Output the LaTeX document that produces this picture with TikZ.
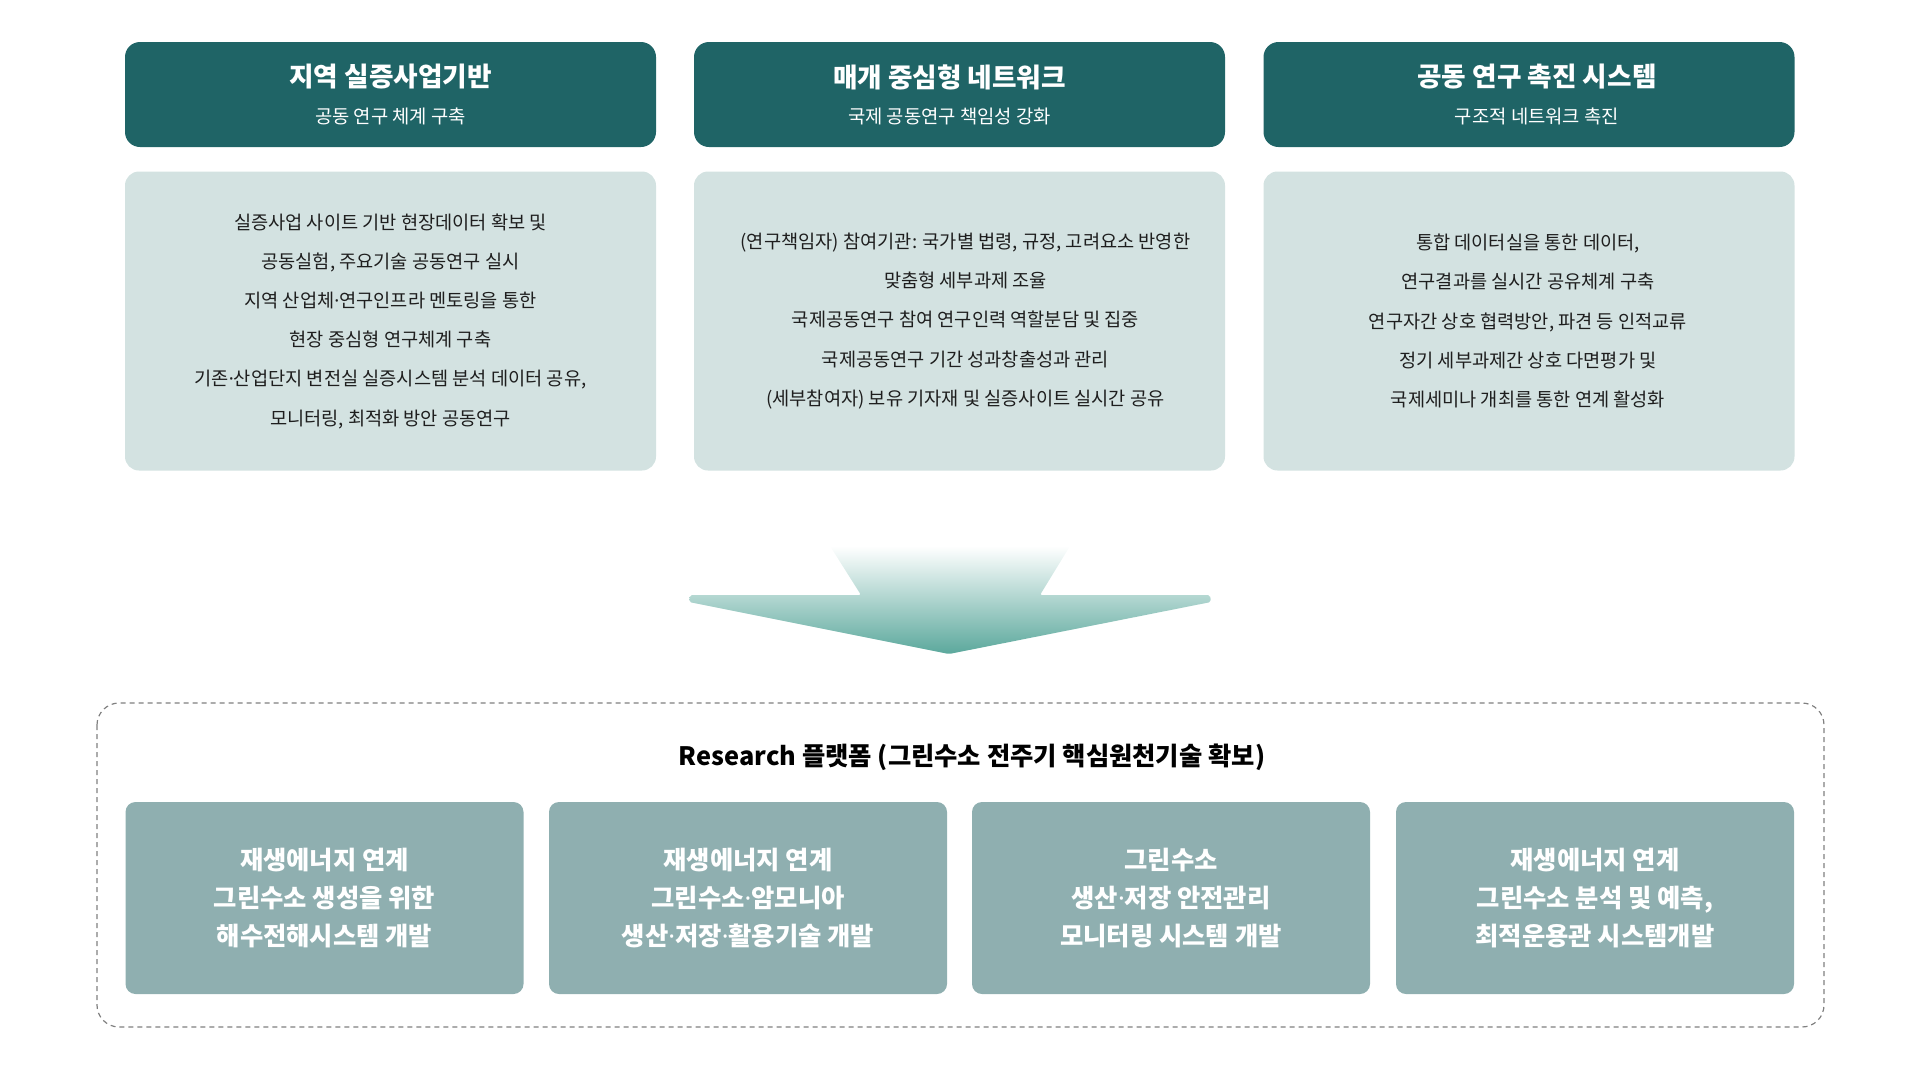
\documentclass[tikz,border=0pt]{standalone}
\usepackage{fontspec}
\setmainfont{Noto Sans CJK KR}
\newfontfamily\latinf{Noto Sans}
\newcommand{\md}{{\latinf ·}}
\definecolor{hdrc}{HTML}{1F6466}
\definecolor{cntc}{HTML}{D3E2E1}
\definecolor{btmc}{HTML}{8FAFB0}
\definecolor{txtc}{HTML}{1E1E1E}
\definecolor{arrc}{HTML}{5BA89C}
\definecolor{dashc}{HTML}{808080}
\def\px{0.75pt}
\begin{document}
\begin{tikzpicture}[x=0.75pt,y=-0.75pt,
  hdrbox/.style={fill=hdrc, rounded corners=15*\px, minimum width=531*\px, minimum height=105*\px, inner sep=0pt},
  hdrtitle/.style={text=white, font=\fontsize{20}{20}\selectfont\bfseries, inner sep=0pt},
  hdrsub/.style={text=white, font=\fontsize{14.1}{14.1}\selectfont, inner sep=0pt},
  cntbox/.style={fill=cntc, rounded corners=14*\px, minimum width=531*\px, minimum height=299*\px, inner sep=0pt, align=center, text=txtc, font=\fontsize{14}{29.4}\selectfont},
  cnttext/.style={inner sep=0pt, align=center, text=txtc, font=\fontsize{14}{29.4}\selectfont},
  btmbox/.style={fill=btmc, rounded corners=10*\px, minimum width=398*\px, minimum height=192*\px, inner sep=0pt, align=center, text=white, font=\fontsize{19}{28.5}\selectfont\bfseries},
  frame/.style={draw=dashc, line width=1.2*\px, dash pattern=on 5*\px off 4*\px, rounded corners=22*\px}
]
\useasboundingbox (0,0) rectangle (1920,1076);

% header boxes
\node[hdrbox] (h1) at (390.5,94.5) {};
\node[hdrbox] (h2) at (959.5,94.5) {};
\node[hdrbox] (h3) at (1529,94.5) {};
\node[hdrtitle] (h1t) at (390.5,77) {지역 실증사업기반};
\node[hdrsub]   (h1s) at (390.5,116) {공동 연구 체계 구축};
\node[hdrtitle] (h2t) at (949.5,77) {매개 중심형 네트워크};
\node[hdrsub]   (h2s) at (949.5,116) {국제 공동연구 책임성 강화};
\node[hdrtitle] (h3t) at (1537,77) {공동 연구 촉진 시스템};
\node[hdrsub]   (h3s) at (1537,116) {구조적 네트워크 촉진};

% content boxes
\node[cntbox] (c1) at (390.5,321) {실증사업 사이트 기반 현장데이터 확보 및\\공동실험, 주요기술 공동연구 실시\\지역 산업체\md 연구인프라 멘토링을 통한\\현장 중심형 연구체계 구축\\기존\md 산업단지 변전실 실증시스템 분석 데이터 공유,\\모니터링, 최적화 방안 공동연구};
\node[cntbox] (c2) at (959.5,321) {};
\node[cnttext] (c2t) at (965.5,321) {(연구책임자) 참여기관: 국가별 법령, 규정, 고려요소 반영한\\맞춤형 세부과제 조율\\국제공동연구 참여 연구인력 역할분담 및 집중\\국제공동연구 기간 성과창출성과 관리\\(세부참여자) 보유 기자재 및 실증사이트 실시간 공유};
\node[cntbox] (c3) at (1529,321) {};
\node[cnttext] (c3t) at (1528,321) {통합 데이터실을 통한 데이터,\\연구결과를 실시간 공유체계 구축\\연구자간 상호 협력방안, 파견 등 인적교류\\정기 세부과제간 상호 다면평가 및\\국제세미나 개최를 통한 연계 활성화};

% arrow
\shade[top color=white, bottom color=arrc, rounded corners=2*\px]
  (830,546) -- (861,595) -- (690,595) -- (689,602) -- (949,654) -- (1211,602) -- (1210,595) -- (1040,595) -- (1070,546) -- cycle;
\coordinate (arrowtip) at (949,654);

% dashed frame
\draw[frame] (97,703) rectangle (1824,1027);
\node[font=\fontsize{19}{19}\selectfont\bfseries, text=black, inner sep=0pt] (rtitle) at (972,757) {Research 플랫폼 (그린수소 전주기 핵심원천기술 확보)};

% bottom boxes
\node[btmbox] (b1) at (324.5,898) {재생에너지 연계\\그린수소 생성을 위한\\해수전해시스템 개발};
\node[btmbox] (b2) at (748,898) {재생에너지 연계\\그린수소\md 암모니아\\생산\md 저장\md 활용기술 개발};
\node[btmbox] (b3) at (1171,898) {그린수소\\생산\md 저장 안전관리\\모니터링 시스템 개발};
\node[btmbox] (b4) at (1595,898) {재생에너지 연계\\그린수소 분석 및 예측,\\최적운용관 시스템개발};
\end{tikzpicture}
\end{document}
